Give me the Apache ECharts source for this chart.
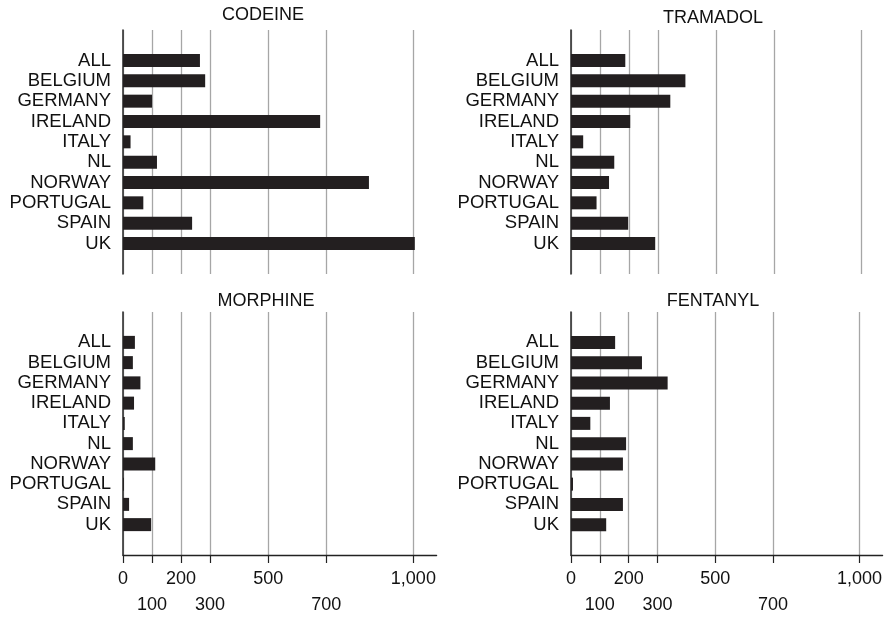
<!DOCTYPE html>
<html>
<head>
<meta charset="utf-8">
<script src="https://cdn.jsdelivr.net/npm/echarts@6/dist/echarts.min.js"></script>
<style>html,body{margin:0;padding:0;background:#fff}#c{width:885px;height:619px}</style>
</head>
<body>
<div id="c"></div>
<script>
var categories = ['ALL','BELGIUM','GERMANY','IRELAND','ITALY','NL','NORWAY','PORTUGAL','SPAIN','UK'];
var panelTitles = ['CODEINE','TRAMADOL','MORPHINE','FENTANYL'];
var codeine  = [265, 283, 100, 679, 26, 117, 847, 70, 238, 1005];
var tramadol = [187, 394, 342, 204, 42, 149, 131, 88, 197, 290];
var morphine = [41, 34, 60, 38, 6, 34, 111, 3, 21, 97];
var fentanyl = [153, 246, 335, 135, 67, 191, 180, 7, 180, 122];
var tickValues = [0, 100, 200, 300, 500, 700, 1000];
var lowerRowTicks = [100, 300, 700];

var panelData = [codeine, tramadol, morphine, fentanyl];
var font = 'Liberation Sans, Arial, Helvetica, sans-serif';
var yCats = [''].concat(categories, ['']);

var gridPos = [
  {left: 123, top: 30, width: 313.6, height: 244},
  {left: 571, top: 30, width: 313.6, height: 244},
  {left: 123, top: 312, width: 313.6, height: 243},
  {left: 571, top: 312, width: 313.6, height: 243}
];
var titlePos = [
  {left: 263, top: 6}, {left: 713, top: 9}, {left: 266, top: 292}, {left: 713, top: 292}
];

var option = {
  animation: false,
  backgroundColor: '#fff',
  title: panelTitles.map(function (t, i) {
    return {text: t, left: titlePos[i].left, top: titlePos[i].top, textAlign: 'center', padding: 0,
      textStyle: {fontFamily: font, fontSize: 18, fontWeight: 'normal', color: '#111'}};
  }),
  grid: gridPos.map(function (g) { return Object.assign({containLabel: false}, g); }),
  xAxis: gridPos.map(function (g, i) {
    var bottom = i >= 2;
    return {
      type: 'value', gridIndex: i, min: 0, max: 1080,
      axisLine: {show: bottom, onZero: false, lineStyle: {color: '#222', width: 1.3}},
      axisTick: {show: bottom, length: 8, customValues: tickValues, lineStyle: {color: '#222', width: 1.2}},
      axisLabel: {show: bottom, customValues: tickValues, margin: 11, fontFamily: font, fontSize: 18,
        color: '#111', lineHeight: 26,
        formatter: function (v) {
          var s = v >= 1000 ? '1,000' : String(v);
          return lowerRowTicks.indexOf(v) >= 0 ? '\n' + s : s;
        }},
      splitLine: {show: true, lineStyle: {color: '#a6a6a6', width: 1.3}}
    };
  }),
  yAxis: gridPos.map(function (g, i) {
    return {
      type: 'category', gridIndex: i, data: yCats, inverse: true,
      axisLine: {show: true, lineStyle: {color: '#333', width: 1.6}},
      axisTick: {show: false},
      axisLabel: {interval: 0, margin: 12, padding: [8, 0, 0, 0], fontFamily: font, fontSize: 18.5, color: '#111'},
      splitLine: {show: false}
    };
  }),
  series: panelData.map(function (d, i) {
    return {
      type: 'bar', xAxisIndex: i, yAxisIndex: i,
      data: ['-'].concat(d, ['-']),
      barWidth: 13,
      itemStyle: {color: '#231f20'},
      silent: true
    };
  })
};
var chart = echarts.init(document.getElementById('c'), null, {renderer: 'canvas'});
chart.setOption(option);
</script>
</body>
</html>
